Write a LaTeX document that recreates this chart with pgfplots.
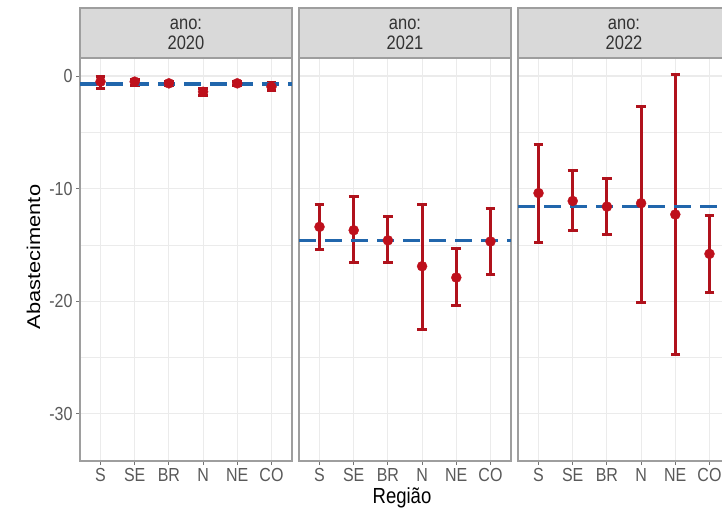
\documentclass[border=0pt]{standalone}
\usepackage{graphicx}
\usepackage{pgfplots}
\pgfplotsset{compat=1.18}
\usepackage{pgfplotstable}
\usepackage{fontspec}
\setmainfont{Liberation Sans}
\definecolor{errc}{HTML}{B0121C}
\definecolor{ptc}{HTML}{BE101C}
\definecolor{dashc}{HTML}{2166AC}
\definecolor{gridc}{gray}{0.92}
\definecolor{bord}{gray}{0.62}
\definecolor{stripc}{gray}{0.85}
\definecolor{ticklab}{gray}{0.35}
\definecolor{tickc}{gray}{0.45}
\newcommand{\vs}[1]{\scalebox{1}[1.18]{#1}}

% x: 1=S 2=SE 3=BR 4=N 5=NE 6=CO
\pgfplotstableread{
x y lo hi
1 -0.50 -1.10 0.00
2 -0.50 -0.80 -0.30
3 -0.65 -0.85 -0.45
4 -1.40 -1.70 -1.10
5 -0.65 -0.85 -0.45
6 -0.95 -1.30 -0.55
}\dataA
\pgfplotstableread{
x y lo hi
1 -13.4 -15.4 -11.4
2 -13.7 -16.6 -10.7
3 -14.6 -16.6 -12.5
4 -16.9 -22.5 -11.4
5 -17.9 -20.4 -15.3
6 -14.7 -17.6 -11.8
}\dataB
\pgfplotstableread{
x y lo hi
1 -10.4 -14.8 -6.1
2 -11.1 -13.75 -8.4
3 -11.6 -14.1 -9.1
4 -11.3 -20.1 -2.7
5 -12.3 -24.7 0.1
6 -15.8 -19.2 -12.4
}\dataC

\pgfplotsset{
  panel/.style={
    scale only axis, width=212pt, height=403pt,
    xmin=0.4, xmax=6.6, ymin=-34.2, ymax=1.6,
    xtick={1,...,6},
    xticklabels={\vs{S},\vs{SE},\vs{BR},\vs{N},\vs{NE},\vs{CO}},
    ytick={-30,-20,-10,0}, minor ytick={-25,-15,-5},
    grid=both,
    major grid style={draw=gridc, line width=1.1pt},
    minor grid style={draw=gridc, line width=0.6pt},
    axis line style={draw=bord, line width=1.2pt},
    tick align=outside, major tick length=4pt, minor tick length=0pt,
    xtick pos=left, ytick pos=left,
    tick style={draw=tickc, line width=1pt},
    ticklabel style={font=\fontsize{16}{19}\selectfont, text=ticklab},
    clip=false,
  },
  errs/.style={
    draw=none, mark=none,
    error bars/.cd, y dir=both, y explicit,
    error bar style={draw=errc, line width=3pt},
    error mark options={rotate=90, mark size=4.8pt, draw=errc, line width=3pt},
  },
  pts/.style={only marks, mark=*, mark size=5pt, mark options={fill=ptc, draw=ptc}},
  hl/.style={draw=dashc, line width=3.4pt, dash pattern=on 17pt off 9pt},
}
\newcommand{\strip}[1]{%
  \draw[draw=bord, line width=1.2pt, fill=stripc] (rel axis cs:0,1) rectangle ([yshift=50pt]rel axis cs:1,1);
  \node[anchor=base, font=\fontsize{16.5}{19}\selectfont, text=black!80, inner sep=0pt] at ([yshift=28pt]rel axis cs:0.5,1) {\vs{ano:}};
  \node[anchor=base, font=\fontsize{16.5}{19}\selectfont, text=black!80, inner sep=0pt] at ([yshift=8pt]rel axis cs:0.5,1) {\vs{#1}};
}

\begin{document}
\begin{tikzpicture}[x=1pt, y=1pt]
\useasboundingbox (0,0) rectangle (722,515);
\clip (0,0) rectangle (722,515);

% Panel 2020
\begin{axis}[panel, at={(80pt,54pt)}, anchor=south west,
  yticklabels={\vs{-30},\vs{-20},\vs{-10},\vs{0}}]
  \addplot[errs] table[x=x, y=y, y error plus expr=\thisrow{hi}-\thisrow{y}, y error minus expr=\thisrow{y}-\thisrow{lo}] {\dataA};
  \addplot[hl] coordinates {(0.4,-0.7) (6.6,-0.7)};
  \addplot[pts] table[x=x, y=y] {\dataA};
  \strip{2020}
\end{axis}

% Panel 2021
\begin{axis}[panel, at={(299pt,54pt)}, anchor=south west,
  yticklabels={}, ytick style={draw=none}]
  \addplot[errs] table[x=x, y=y, y error plus expr=\thisrow{hi}-\thisrow{y}, y error minus expr=\thisrow{y}-\thisrow{lo}] {\dataB};
  \addplot[hl] coordinates {(0.4,-14.6) (6.6,-14.6)};
  \addplot[pts] table[x=x, y=y] {\dataB};
  \strip{2021}
\end{axis}

% Panel 2022
\begin{axis}[panel, at={(518pt,54pt)}, anchor=south west,
  yticklabels={}, ytick style={draw=none}]
  \addplot[errs] table[x=x, y=y, y error plus expr=\thisrow{hi}-\thisrow{y}, y error minus expr=\thisrow{y}-\thisrow{lo}] {\dataC};
  \addplot[hl] coordinates {(0.4,-11.6) (6.6,-11.6)};
  \addplot[pts] table[x=x, y=y] {\dataC};
  \strip{2022}
\end{axis}

\node[anchor=base, font=\fontsize{18.5}{22}\selectfont, inner sep=0pt] at (402,12) {\vs{Região}};
\node[anchor=base, rotate=90, font=\fontsize{18.5}{22}\selectfont, inner sep=0pt] at (40,258) {\scalebox{1.18}[1]{Abastecimento}};
\end{tikzpicture}
\end{document}
